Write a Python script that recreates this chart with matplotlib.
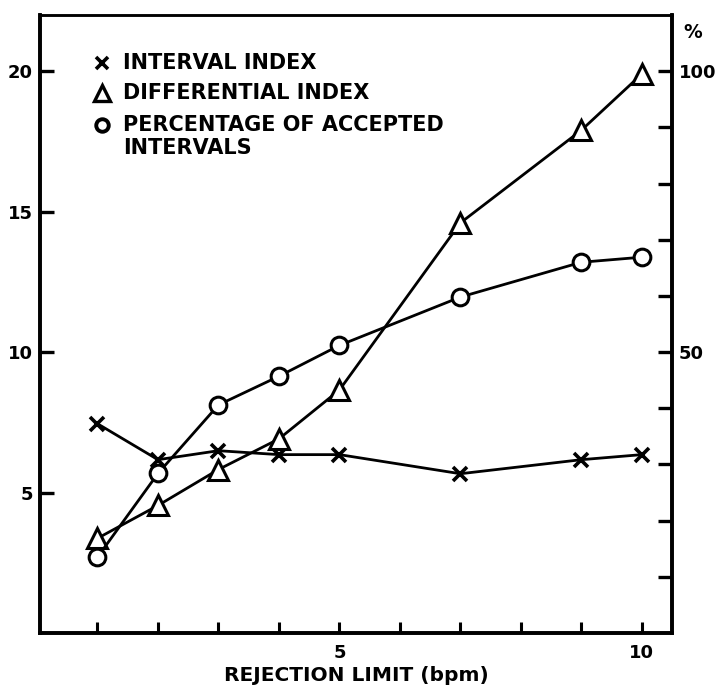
import matplotlib
matplotlib.use('Agg')
import matplotlib.pyplot as plt

plt.rcParams['font.family'] = ['DejaVu Sans']
plt.rcParams['font.weight'] = 'bold'
plt.rcParams['axes.labelweight'] = 'bold'

limit = [1, 2, 3, 4, 5, 7, 9, 10]
interval_index = [7.45, 6.17, 6.49, 6.35, 6.35, 5.67, 6.17, 6.35]
differential_index = [3.37, 4.54, 5.82, 6.91, 8.65, 14.6, 17.9, 19.9]
pct_accepted = [13.5, 28.4, 40.6, 45.7, 51.2, 59.8, 66.0, 66.9]

labels = ['INTERVAL INDEX', 'DIFFERENTIAL INDEX', 'PERCENTAGE OF ACCEPTED', 'INTERVALS']

fig = plt.figure(figsize=(7.2, 6.86), dpi=100)
ax = fig.add_axes([0.0556, 0.0773, 0.8778, 0.9007])
ax2 = ax.twinx()

ax.plot(limit, interval_index, color='black', lw=2, marker='x',
        ms=10, mew=2.6, zorder=3)
ax.plot(limit, differential_index, color='black', lw=2, marker='^',
        ms=14.5, mew=2.2, mfc='white', zorder=3)
ax2.plot(limit, pct_accepted, color='black', lw=2, marker='o',
         ms=12, mew=2.2, mfc='white', zorder=3)

ax.set_xlim(0.05, 10.5)
ax.set_ylim(0, 22)
ax2.set_ylim(0, 110)

ax.set_xticks(range(1, 11))
ax.set_xticklabels([str(i) if i in (5, 10) else '' for i in range(1, 11)])
ax.set_yticks([5, 10, 15, 20])
ax2.set_yticks(range(10, 101, 10))
ax2.set_yticklabels([str(v) if v in (50, 100) else '' for v in range(10, 101, 10)])

ax.tick_params(axis='x', direction='in', length=8, width=2.2, labelsize=13, pad=8)
ax.tick_params(axis='y', direction='in', length=10, width=2.4, labelsize=13, pad=5)
ax2.tick_params(axis='y', direction='in', length=10, width=2.4, labelsize=13, pad=5)

for a in (ax, ax2):
    for s in a.spines.values():
        s.set_linewidth(2.6)
    a.spines['top'].set_linewidth(1.8)

ax.set_xlabel('REJECTION LIMIT (bpm)', fontsize=14.5)
ax.xaxis.set_label_coords(0.5, -0.0696)
ax.xaxis.label.set_va('center')
ax2.text(1.032, 0.972, '%', transform=ax2.transAxes, fontsize=13.5,
         ha='center', va='center')

# hand-made key: marker sits on the first line of its label
key_x, text_x = 0.098, 0.131
key_y = [0.922, 0.874, 0.822, 0.785]
key_marks = [dict(marker='x', ms=8.5, mew=2.6),
             dict(marker='^', ms=12, mew=2.4, mfc='white'),
             dict(marker='o', ms=9, mew=2.8, mfc='white')]
for y, mk in zip(key_y, key_marks):
    ax2.plot([key_x], [y], transform=ax2.transAxes, color='black',
             linestyle='none', clip_on=False, **mk)
for y, lab in zip(key_y, labels):
    ax2.text(text_x, y, lab, transform=ax2.transAxes, fontsize=15,
             ha='left', va='center')

fig.savefig('out.png', dpi=100)
